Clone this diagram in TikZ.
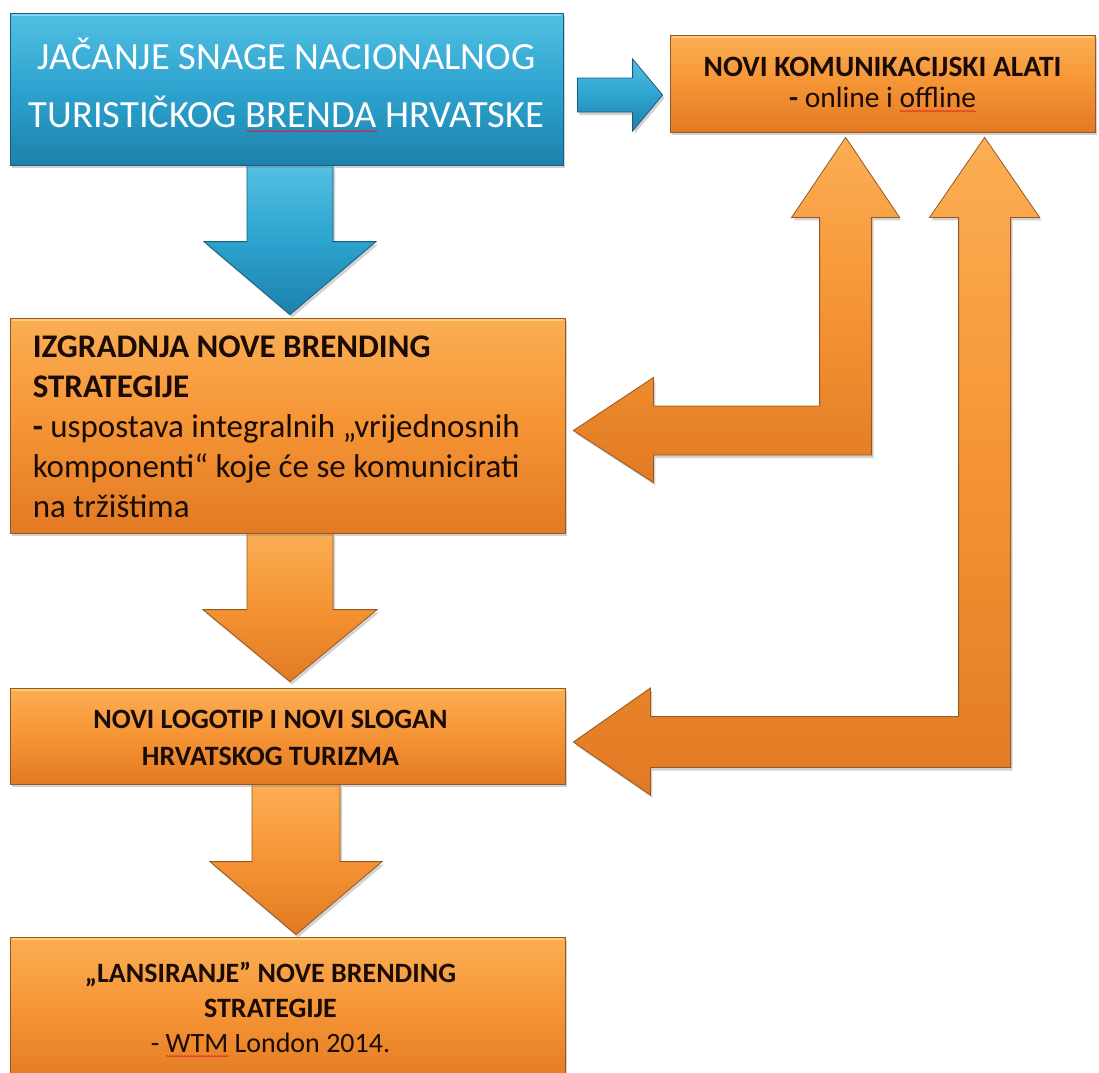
\documentclass[tikz,border=0pt]{standalone}
\usepackage{fontspec}
\setmainfont{Carlito}
\usetikzlibrary{calc,shadows,decorations.pathmorphing}
\definecolor{otop}{RGB}{251,174,84}
\definecolor{omid}{RGB}{245,148,52}
\definecolor{obot}{RGB}{226,122,36}
\definecolor{oline}{RGB}{150,88,32}
\definecolor{ohigh}{RGB}{255,210,120}
\definecolor{btop}{RGB}{82,192,226}
\definecolor{bmid}{RGB}{45,163,207}
\definecolor{bbot}{RGB}{28,130,172}
\definecolor{bline}{RGB}{24,92,126}
\definecolor{bhigh}{RGB}{140,220,245}
\definecolor{txt}{RGB}{26,12,4}
\definecolor{spellred}{RGB}{225,30,30}
\newsavebox\spellbox
\newcommand\spellwave[1]{\sbox\spellbox{#1}\rlap{\tikz[baseline=0pt]\draw[spellred, line width=0.6pt, decorate, decoration={snake,amplitude=0.8pt,segment length=3pt}] (0pt,-4pt) -- (\wd\spellbox,-4pt);}\usebox\spellbox}
\newcommand\vblock[6]{\path[#1] ($(#2)+(-#4,0)$) -- ($(#2)+(#4,0)$) -- ($(#3)+(#4,-#6)$) -- ($(#3)+(#5,-#6)$) -- (#3) -- ($(#3)+(-#5,-#6)$) -- ($(#3)+(-#4,-#6)$) -- cycle;}
\newcommand\hblock[6]{\path[#1] ($(#2)+(0,-#4)$) -- ($(#3)+(-#6,-#4)$) -- ($(#3)+(-#6,-#5)$) -- (#3) -- ($(#3)+(-#6,#5)$) -- ($(#3)+(-#6,#4)$) -- ($(#2)+(0,#4)$) -- cycle;}
\pgfdeclarelayer{back}
\pgfdeclarelayer{arrows}
\pgfsetlayers{back,arrows,main}
\tikzset{
  shadowed/.style={drop shadow={opacity=0.35,shadow xshift=2pt,shadow yshift=-3pt}},
  oshade/.style={draw=oline, line width=0.8pt, top color=otop, bottom color=obot, middle color=omid, shadowed},
  bshade/.style={draw=bline, line width=0.8pt, top color=btop, bottom color=bbot, middle color=bmid, shadowed},
  obox/.style={oshade, inner sep=0pt},
  bbox/.style={bshade, inner sep=0pt},
  otext/.style={text=txt, inner sep=0pt},
  btext/.style={text=white, inner sep=0pt},
  oarrow/.style={oshade, line join=miter},
  barrow/.style={bshade, line join=miter},
  ohl/.style={ohigh, line width=2pt, opacity=0.8},
  bhl/.style={bhigh, line width=2pt, opacity=0.8},
}
\begin{document}
\begin{tikzpicture}[x=1pt,y=-1pt]
\begin{pgfonlayer}{back}
\fill[white] (0,0) rectangle (1099,1072);
\end{pgfonlayer}
\useasboundingbox (0,0) rectangle (1099,1072);

% boxes
\node[bbox, minimum width=553, minimum height=152] (b0) at (286.5,89) {};
\node[obox, minimum width=425, minimum height=97] (t1) at (882.5,83.5) {};
\node[obox, minimum width=555, minimum height=215] (b2) at (287.5,425.5) {};
\node[obox, minimum width=555, minimum height=96] (b3) at (287.5,736) {};
\node[obox, minimum width=555, minimum height=148] (b4) at (287.5,1011) {};

% top bevel highlights
\draw[bhl] ($(b0.north west)+(2,2.5)$) -- ($(b0.north east)+(-2,2.5)$);
\foreach \b in {t1,b2,b3,b4}{
  \draw[ohl] ($(\b.north west)+(2,2.5)$) -- ($(\b.north east)+(-2,2.5)$);
}

% texts
\node[btext, align=center, font=\fontsize{38.5}{58}\selectfont] (b0t) at ($(b0.center)+(0,-4)$)
  {JAČANJE SNAGE NACIONALNOG\\TURISTIČKOG \spellwave{BRENDA} HRVATSKE};
\node[otext, align=center, font=\fontsize{29.5}{31}\selectfont] (t1t) at ($(t1.center)+(0,1)$)
  {\textbf{NOVI KOMUNIKACIJSKI ALATI}\\\textbf{-} online i \spellwave{offline}};
\node[otext, align=left, anchor=west, font=\fontsize{33}{40}\selectfont] (b2t) at ($(b2.west)+(23,1)$)
  {\textbf{IZGRADNJA NOVE BRENDING}\\\textbf{STRATEGIJE}\\\textbf{-} uspostava integralnih „vrijednosnih\\komponenti“ koje će se komunicirati\\na tržištima};
\node[otext, align=center, font=\fontsize{28}{37}\selectfont\bfseries] (b3t) at ($(b3.center)+(-17,2)$)
  {NOVI LOGOTIP I NOVI SLOGAN\\HRVATSKOG TURIZMA};
\node[otext, align=center, font=\fontsize{28}{35}\selectfont] (b4t) at ($(b4.north)+(-17,73)$)
  {\textbf{„LANSIRANJE” NOVE BRENDING}\\\textbf{STRATEGIJE}\\- \spellwave{WTM} London 2014.};

% arrows
\begin{pgfonlayer}{arrows}
\coordinate (d1s) at ($(b0.south)+(3.5,0)$);
\coordinate (d1t) at ($(d1s |- b2.north)+(0,-3)$);
\vblock{barrow}{d1s}{d1t}{43}{86}{73}
\coordinate (d2s) at ($(b2.south)+(2.5,0)$);
\coordinate (d2t) at ($(d2s |- b3.north)+(0,-6)$);
\vblock{oarrow}{d2s}{d2t}{43}{87}{72}
\coordinate (d3s) at ($(b3.south)+(8.5,0)$);
\coordinate (d3t) at ($(d3s |- b4.north)+(0,-2)$);
\vblock{oarrow}{d3s}{d3t}{44}{86}{73}
\coordinate (r1s) at ($(b0.east)+(14,6)$);
\coordinate (r1t) at ($(t1.west)+(-7,11.5)$);
\hblock{barrow}{r1s}{r1t}{17}{36}{30}
% bent arrow A: between t1 and b2
\coordinate (uA) at ($(t1.south west)+(176,5)$);
\coordinate (lA) at ($(b2.east)+(8,5)$);
\path[oarrow] let \p1=(uA), \p2=(lA) in
  (\p1) -- (\x1+54pt,\y1-80pt) -- (\x1+26pt,\y1-80pt) -- (\x1+26pt,\y2-24.5pt)
  -- (\x2+80pt,\y2-24.5pt) -- (\x2+80pt,\y2-52pt) -- (\p2) -- (\x2+80pt,\y2+53pt)
  -- (\x2+80pt,\y2+24.5pt) -- (\x1-26pt,\y2+24.5pt) -- (\x1-26pt,\y1-80pt)
  -- (\x1-54pt,\y1-80pt) -- cycle;
% bent arrow B: between t1 and b3
\coordinate (uB) at ($(t1.south west)+(315,5)$);
\coordinate (lB) at ($(b3.east)+(8,6)$);
\path[oarrow] let \p1=(uB), \p2=(lB) in
  (\p1) -- (\x1+55pt,\y1-80pt) -- (\x1+26pt,\y1-80pt) -- (\x1+26pt,\y2-25.5pt)
  -- (\x2+77pt,\y2-25.5pt) -- (\x2+77pt,\y2-53pt) -- (\p2) -- (\x2+77pt,\y2+54pt)
  -- (\x2+77pt,\y2+25.5pt) -- (\x1-26pt,\y2+25.5pt) -- (\x1-26pt,\y1-80pt)
  -- (\x1-55pt,\y1-80pt) -- cycle;
\end{pgfonlayer}
\end{tikzpicture}
\end{document}
